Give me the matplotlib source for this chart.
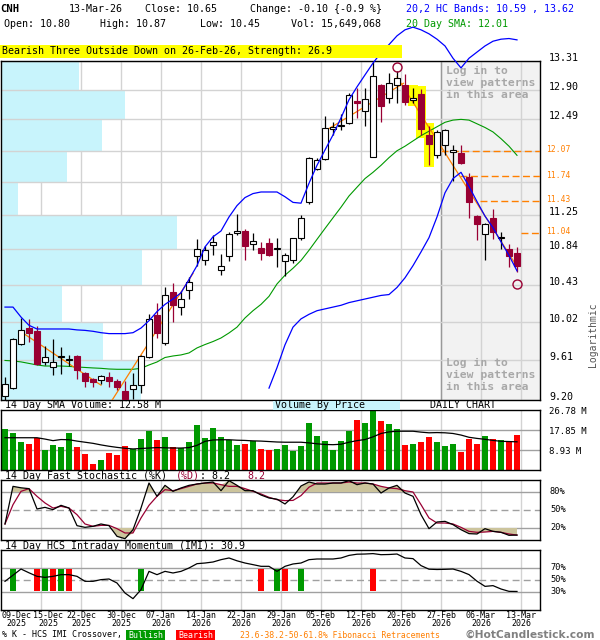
import matplotlib
matplotlib.use("Agg")
import matplotlib.pyplot as plt
from matplotlib.patches import Rectangle
import matplotlib.transforms as mtransforms
import numpy as np

plt.rcParams['font.family'] = ['DejaVu Sans Mono', 'DejaVu Sans']

# ---------------- data ----------------
opens = [9.24, 9.32, 9.78, 9.95, 9.92, 9.59, 9.54, 9.64, 9.61, 9.65,
         9.47, 9.41, 9.40, 9.43, 9.39, 9.29, 9.31, 9.35, 9.64, 10.09,
         9.79, 10.35, 10.18, 10.37, 10.76, 10.72, 10.89, 10.60, 10.76, 11.03,
         11.06, 10.90, 10.86, 10.92, 10.85, 10.70, 10.71, 10.97, 11.42, 11.83,
         11.96, 12.36, 12.40, 12.44, 12.74, 12.60, 11.99, 12.97, 12.78, 12.97,
         12.97, 12.75, 12.84, 12.28, 12.01, 12.14, 12.05, 12.04, 11.73, 11.24,
         11.02, 11.22, 10.98, 10.85, 10.80]
highs = [9.43, 9.84, 10.06, 10.05, 9.97, 9.76, 9.83, 9.75, 9.66, 9.66,
         9.48, 9.42, 9.45, 9.49, 9.41, 9.39, 9.47, 9.66, 10.10, 10.22,
         10.41, 10.45, 10.36, 10.52, 10.96, 10.88, 11.01, 10.79, 11.05, 11.27,
         11.08, 11.03, 10.93, 10.97, 10.97, 10.80, 10.98, 11.26, 11.99, 11.98,
         12.54, 12.46, 12.57, 12.85, 12.92, 12.92, 13.30, 12.98, 13.13, 13.17,
         13.12, 12.93, 12.91, 12.40, 12.35, 12.36, 12.14, 12.14, 11.78, 11.25,
         11.16, 11.33, 11.05, 10.91, 10.87]
lows = [9.19, 9.31, 9.77, 9.80, 9.56, 9.56, 9.45, 9.46, 9.55, 9.41,
        9.33, 9.33, 9.36, 9.33, 9.30, 9.20, 9.21, 9.27, 9.63, 9.84,
        9.77, 10.02, 10.09, 10.27, 10.65, 10.66, 10.78, 10.54, 10.70, 11.01,
        10.72, 10.83, 10.72, 10.76, 10.63, 10.53, 10.68, 10.95, 11.39, 11.82,
        11.95, 12.28, 12.34, 12.43, 12.51, 12.40, 11.99, 12.46, 12.72, 12.71,
        12.69, 12.71, 12.28, 11.89, 11.97, 12.01, 11.68, 11.90, 11.22, 10.95,
        10.71, 10.96, 10.85, 10.63, 10.58]
closes = [9.36, 9.83, 9.93, 9.90, 9.57, 9.64, 9.59, 9.65, 9.62, 9.51,
          9.39, 9.38, 9.44, 9.39, 9.33, 9.21, 9.35, 9.65, 10.05, 9.90,
          10.32, 10.20, 10.27, 10.46, 10.84, 10.83, 10.93, 10.65, 11.02, 11.06,
          10.88, 10.94, 10.80, 10.77, 10.86, 10.77, 10.97, 11.22, 11.97, 11.95,
          12.37, 12.39, 12.41, 12.82, 12.71, 12.77, 13.10, 12.68, 12.99, 13.07,
          12.73, 12.78, 12.36, 12.16, 12.32, 12.35, 12.08, 11.91, 11.41, 11.15,
          11.15, 11.05, 10.99, 10.76, 10.65]
volume_m = [18.3, 16.6, 12.6, 11.7, 14.4, 8.9, 11.2, 10.3, 16.6, 10.3,
            7.1, 2.7, 4.5, 7.6, 6.7, 10.7, 9.4, 13.8, 17.4, 13.4,
            14.7, 10.3, 9.8, 12.5, 20.1, 14.3, 18.7, 14.7, 13.5, 11.2,
            11.7, 12.9, 9.4, 8.9, 9.4, 11.2, 8.5, 10.7, 21.1, 15.2,
            12.9, 8.9, 12.9, 17.4, 22.3, 21.0, 26.5, 21.9, 20.5, 18.3,
            11.2, 11.6, 12.5, 14.7, 12.5, 10.7, 11.6, 8.0, 13.8, 11.6,
            15.2, 13.8, 13.4, 12.9, 15.65]
volume_sma_m = [14.4, 14.4, 14.4, 14.4, 14.4, 13.8, 13.1, 13.6, 13.5, 12.9,
                12.4, 11.9, 11.2, 10.6, 10.1, 9.7, 9.4, 9.6, 9.8, 10.0,
                9.9, 9.8, 9.8, 10.0, 11.0, 12.8, 13.4, 13.5, 13.5, 13.3,
                13.2, 13.0, 12.9, 12.7, 12.5, 12.4, 12.4, 12.4, 12.1, 11.7,
                11.4, 11.3, 11.5, 12.4, 13.1, 13.6, 14.8, 16.3, 17.0, 17.3,
                17.3, 17.3, 16.9, 16.6, 16.7, 16.6, 16.3, 15.6, 14.6, 14.1,
                13.7, 13.2, 12.8, 12.7, 12.58]
upper_band = [10.18, 10.18, 10.07, 9.98, 9.94, 9.94, 9.94, 9.94, 9.94, 9.93,
              9.925, 9.915, 9.90, 9.89, 9.89, 9.89, 9.90, 9.95, 10.03, 10.13,
              10.21, 10.27, 10.34, 10.49, 10.65, 10.87, 10.99, 11.06, 11.23, 11.37,
              11.47, 11.52, 11.54, 11.54, 11.54, 11.48, 11.41, 11.40, 11.65, 11.88,
              12.08, 12.28, 12.51, 12.76, 12.94, 13.11, 13.28, 13.43, 13.55, 13.68,
              13.77, 13.81, 13.77, 13.71, 13.63, 13.53, 13.35, 13.21, 13.35, 13.44,
              13.53, 13.60, 13.63, 13.64, 13.62]
lower_band_start = 33
lower_band = [9.32, 9.53, 9.77, 9.96, 10.05, 10.10, 10.14, 10.16, 10.18, 10.20,
              10.23, 10.25, 10.27, 10.29, 10.31, 10.32, 10.40, 10.51, 10.65, 10.81,
              10.98, 11.23, 11.53, 11.71, 11.79, 11.61, 11.42, 11.24, 11.10, 10.93,
              10.77, 10.59]
sma20 = [9.605, 9.60, 9.59, 9.574, 9.558, 9.547, 9.547, 9.547, 9.543, 9.537,
         9.532, 9.527, 9.523, 9.516, 9.513, 9.513, 9.513, 9.523, 9.558, 9.589,
         9.636, 9.652, 9.663, 9.684, 9.737, 9.773, 9.805, 9.843, 9.897, 9.96,
         10.06, 10.14, 10.21, 10.30, 10.44, 10.54, 10.62, 10.71, 10.83, 10.96,
         11.09, 11.22, 11.35, 11.49, 11.60, 11.71, 11.79, 11.88, 11.98, 12.07,
         12.13, 12.20, 12.27, 12.33, 12.39, 12.45, 12.48, 12.49, 12.48, 12.43,
         12.38, 12.32, 12.23, 12.13, 12.01]
stoch_k = [26.7, 89.4, 87.0, 85.6, 51.7, 54.4, 50.6, 57.8, 53.3, 23.9,
           21.1, 22.8, 26.7, 23.9, 6.1, 2.2, 17.2, 53.3, 95.0, 72.8,
           91.1, 81.1, 86.7, 91.1, 93.3, 95.0, 96.7, 82.2, 98.9, 91.1,
           82.2, 82.2, 75.0, 70.0, 68.0, 60.0, 72.0, 90.0, 96.7, 93.3,
           93.3, 95.0, 95.0, 98.9, 92.2, 95.0, 93.3, 78.3, 86.7, 91.1,
           78.3, 72.8, 42.2, 18.9, 30.0, 31.1, 25.6, 17.2, 10.6, 10.0,
           18.9, 14.4, 12.8, 7.8, 8.2]
stoch_d = [26.7, 58.9, 81.1, 85.6, 72.8, 61.7, 53.3, 56.1, 53.3, 42.2,
           26.7, 22.8, 24.4, 24.4, 18.9, 11.7, 11.7, 36.7, 57.8, 72.8,
           83.9, 82.2, 85.6, 89.4, 93.3, 95.0, 95.0, 92.2, 89.4, 89.4,
           85.6, 81.1, 76.7, 71.1, 67.2, 65.6, 66.0, 74.0, 88.0, 95.0,
           95.0, 95.0, 95.0, 96.7, 95.0, 95.0, 93.3, 89.4, 86.7, 85.6,
           82.2, 80.0, 58.9, 36.7, 28.3, 28.3, 26.7, 21.1, 14.4, 12.8,
           13.3, 14.4, 12.8, 10.0, 8.2]
imi = [47.8, 58.0, 68.3, 62.0, 56.1, 54.4, 56.1, 58.9, 58.9, 56.1,
       47.8, 47.8, 50.6, 51.7, 45.0, 28.3, 18.9, 33.9, 64.4, 58.9,
       64.4, 61.7, 64.4, 70.0, 77.2, 78.3, 80.0, 83.9, 86.7, 82.0,
       78.3, 75.6, 72.8, 72.8, 64.4, 72.8, 76.7, 78.3, 83.9, 85.0,
       85.0, 85.0, 86.7, 91.0, 93.0, 93.3, 94.0, 92.2, 92.5, 93.3,
       86.7, 85.6, 74.0, 68.0, 67.5, 67.8, 68.3, 64.4, 59.0, 48.0,
       39.4, 40.6, 35.0, 31.1, 30.9]
imi_bull_bars = [1, 5, 7, 17, 34, 37]
imi_bear_bars = [4, 6, 8, 32, 35, 46]

tick_bars = [0, 4, 9, 14, 19, 24, 29, 34, 39, 44, 49, 54, 59, 64]
tick_days = ["09-Dec", "15-Dec", "22-Dec", "30-Dec", "07-Jan", "14-Jan", "22-Jan",
             "29-Jan", "05-Feb", "12-Feb", "20-Feb", "27-Feb", "06-Mar", "13-Mar"]
tick_years = ["2025", "2025", "2025", "2025", "2026", "2026", "2026",
              "2026", "2026", "2026", "2026", "2026", "2026", "2026"]

price_grid = [9.20, 9.61, 10.02, 10.43, 10.84, 11.25, 11.66, 12.07, 12.49, 12.90, 13.31]
price_labels = ["13.31", "12.90", "12.49", "11.25", "10.84", "10.43", "10.02", "9.61", "9.20"]
vbp_volume = [140, 102, 61, 141, 176, 17, 66, 101, 124, 78]   # per bin, bottom to top
fib_levels = [12.07, 11.74, 11.43, 11.04]
fib_start = [54.5, 56.9, 59.4, 64.5]
trend_lines = [(2, 9.91, 12, 9.35), (13, 9.15, 23.5, 10.56),
               (39.8, 12.32, 49.8, 12.99), (49.0, 13.08, 64.0, 10.64)]
pattern_bars = [51, 52, 53]
swing_marks = [(49, 13.22), (64, 10.44)]
vol_grid = [8.93, 17.85]
vol_top = 26.78

# ---------------- style ----------------
MAROON = '#990033'
GREEN = '#009900'
RED = '#FF0000'
BLUE = '#0000FF'
ORANGE = '#FF7F00'
CYAN = '#C8F4FC'
GRID = '#D3D3D3'
DGRID = '#A0A0A0'
KHAKI = '#CCC49C'

W, H = 600, 640
n = len(closes)
xs = np.arange(n)
XMIN, XMAX = -0.5, 66.875


def rect(x0, y0, x1, y1):
    return [x0 / W, 1 - y1 / H, (x1 - x0) / W, (y1 - y0) / H]


def ftext(x, y, s, **kw):
    kw.setdefault('fontsize', 7.2)
    kw.setdefault('va', 'center')
    kw.setdefault('ha', 'left')
    fig.text(x / W, 1 - y / H, s, **kw)


fig = plt.figure(figsize=(6, 6.4), dpi=100)
fig.patch.set_facecolor('white')

ax = fig.add_axes(rect(1, 61, 540, 400))
axv = fig.add_axes(rect(1, 410, 540, 470))
axs = fig.add_axes(rect(1, 480, 540, 540))
axi = fig.add_axes(rect(1, 550, 540, 610))

vgrid = [b + 0.5 for b in tick_bars[1:]]

for a in (ax, axv, axs, axi):
    a.set_xlim(XMIN, XMAX)
    a.set_xticks([])
    a.set_yticks([])
    a.minorticks_off()
    for sp in a.spines.values():
        sp.set_color('black')
        sp.set_linewidth(1.0)
    for g in vgrid:
        a.axvline(g, color=GRID, lw=1.0, zorder=1)

# ---------------- price panel ----------------
ax.set_yscale('log')
ax.set_ylim(price_grid[0], price_grid[-1])
ax.yaxis.set_major_locator(matplotlib.ticker.NullLocator())
ax.yaxis.set_minor_locator(matplotlib.ticker.NullLocator())

ax.axvspan(54.5, XMAX, color='#F2F2F2', zorder=0.5, lw=0)
ax.axvline(54.5, color='#999999', lw=1.0, zorder=1.1)
for p in price_grid:
    ax.axhline(p, color=GRID, lw=1.0, zorder=2.5)

ytr = ax.get_yaxis_transform()
vmax = max(vbp_volume)
for i, v in enumerate(vbp_volume):
    lo, hi = price_grid[i], price_grid[i + 1]
    ax.add_patch(Rectangle((0, lo), 0.3265 * v / vmax, hi - lo, transform=ytr,
                           facecolor=CYAN, edgecolor='none', zorder=2))

for txt_y in (0.985, 0.125):
    ax.text(0.825, txt_y, "Log in to\nview patterns\nin this area", transform=ax.transAxes,
            fontsize=8.2, fontweight='bold', color='#A8A8A8', va='top', ha='left',
            linespacing=1.25, zorder=2.6)

for b in pattern_bars:
    lo = lows[b] / 1.003
    hi = highs[b] * 1.003
    ax.add_patch(Rectangle((b - 0.65, lo), 1.3, hi - lo, facecolor='#FFFF00',
                           edgecolor='none', zorder=2.8))

for lvl, st in zip(fib_levels, fib_start):
    ax.hlines(lvl, st, XMAX, colors=ORANGE, lw=1.0, linestyles=(0, (5, 2.5)), zorder=3)

ax.plot(xs, sma20, color=GREEN, lw=0.8, zorder=3.2)
ax.plot(xs, upper_band, color=BLUE, lw=0.9, zorder=6, clip_on=False)
ax.plot(np.arange(lower_band_start, lower_band_start + len(lower_band)), lower_band,
        color=BLUE, lw=0.9, zorder=6)
for x0, p0, x1, p1 in trend_lines:
    ax.plot([x0, x1], [p0, p1], color=ORANGE, lw=0.9, zorder=3.4)

for i in range(n):
    o, h, l, c = opens[i], highs[i], lows[i], closes[i]
    up = c >= o
    col = 'black' if up else MAROON
    ax.vlines(i, l, h, colors=col, lw=0.9, zorder=4)
    bot, top = min(o, c), max(o, c)
    if top / bot < 1.0006:
        top = bot * 1.0006
    ax.add_patch(Rectangle((i - 0.375, bot), 0.75, top - bot,
                           facecolor='white' if up else MAROON,
                           edgecolor=col, lw=0.8, zorder=5))

for b, p in swing_marks:
    ax.plot(b, p, 'o', mfc='none', mec=MAROON, ms=6.5, mew=1.0, zorder=7)

base_off = mtransforms.offset_copy(ytr, fig=fig, x=0, y=3, units='dots')
for lab in price_labels:
    ax.text(1.0167, float(lab), lab, transform=base_off, fontsize=7.2,
            va='center', ha='left', clip_on=False)
fib_off = mtransforms.offset_copy(ytr, fig=fig, x=0, y=1, units='dots')
for lvl in fib_levels:
    ax.text(1.0111, lvl, f"{lvl:.2f}", transform=fib_off, fontsize=5.8, color=ORANGE,
            va='center', ha='left', clip_on=False)

# ---------------- volume panel ----------------
axv.set_ylim(0, vol_top)
for g in vol_grid:
    axv.axhline(g, color=DGRID, lw=1.0, zorder=1.5)
vcols = [GREEN if c >= o else RED for o, c in zip(opens, closes)]
axv.bar(xs, volume_m, width=0.75, color=vcols, zorder=2)
axv.plot(xs, volume_sma_m, color='black', lw=0.9, zorder=3)

# ---------------- stochastic panel ----------------
axs.set_ylim(0, 100)
K = np.array(stoch_k)
D = np.array(stoch_d)
axs.axhline(80, color=DGRID, lw=1.0, zorder=1.5)
axs.axhline(20, color=DGRID, lw=1.0, zorder=1.5)
axs.axhline(50, color=DGRID, lw=1.0, ls=(0, (5, 3)), zorder=1.5)
up_env = np.maximum(K, D)
lo_env = np.minimum(K, D)
axs.fill_between(xs, 80, up_env, where=up_env > 80, interpolate=True, color=KHAKI, lw=0, zorder=1.6)
axs.fill_between(xs, 20, lo_env, where=lo_env < 20, interpolate=True, color=KHAKI, lw=0, zorder=1.6)
axs.plot(xs, D, color=MAROON, lw=0.9, zorder=3)
axs.plot(xs, K, color='black', lw=0.9, zorder=3.1)

# ---------------- IMI panel ----------------
axi.set_ylim(0, 100)
axi.axhline(70, color=DGRID, lw=1.0, zorder=1.5)
axi.axhline(30, color=DGRID, lw=1.0, zorder=1.5)
axi.axhline(50, color=DGRID, lw=1.0, ls=(0, (5, 3)), zorder=1.5)
axi.bar(imi_bull_bars, 36, bottom=32, width=0.83, color=GREEN, zorder=2)
axi.bar(imi_bear_bars, 36, bottom=32, width=0.83, color=RED, zorder=2)
axi.plot(xs, imi, color='black', lw=0.9, zorder=3)

# ---------------- texts ----------------
ftext(0, 9, "CNH", fontweight='bold', fontsize=7.6)
ftext(69, 9, "13-Mar-26")
ftext(145, 9, "Close: 10.65")
ftext(250, 9, "Change: -0.10 {-0.9 %}")
ftext(406, 9, "20,2 HC Bands: 10.59 , 13.62", color=BLUE)
ftext(4.5, 24, "Open: 10.80")
ftext(100, 24, "High: 10.87")
ftext(200, 24, "Low: 10.45")
ftext(291, 24, "Vol: 15,649,068")
ftext(406, 24, "20 Day SMA: 12.01", color=GREEN)

fig.patches.append(Rectangle((0, 1 - 57.5 / H), 402 / W, 12.5 / H, transform=fig.transFigure,
                             facecolor='#FFFF00', edgecolor='none', zorder=0))
ftext(2, 51.5, "Bearish Three Outside Down on 26-Feb-26, Strength: 26.9")

fig.patches.append(Rectangle((273 / W, 1 - 410 / H), 127 / W, 9 / H, transform=fig.transFigure,
                             facecolor=CYAN, edgecolor='none', zorder=0))
ftext(5, 405.5, "14 Day SMA Volume: 12.58 M")
ftext(275, 405.5, "Volume By Price")
ftext(430, 405.5, "DAILY CHART")

ftext(5, 476, "14 Day Fast Stochastic (%K)")
ftext(175.5, 476, "(%D)", color=MAROON)
ftext(199.5, 476, ": 8.2")
ftext(247, 476, "8.2", color=MAROON)
ftext(5, 546, "14 Day HCS Intraday Momentum (IMI): 30.9")

for lab, yy in (("26.78 M", 412), ("17.85 M", 432), ("8.93 M", 452)):
    ftext(549, yy, lab, fontsize=6.5)
for lab, yy in (("80%", 492), ("50%", 510), ("20%", 528), ("70%", 568), ("50%", 580), ("30%", 592)):
    ftext(550, yy, lab, fontsize=6.2)

ftext(593, 335, "Logarithmic", rotation=90, ha='center', fontsize=7, color='#555555')

for j, (b, d, yv) in enumerate(zip(tick_bars, tick_days, tick_years)):
    if j == 0:
        xp, ha = 2, 'left'
    elif j == 1:
        xp, ha = 48, 'center'
    else:
        xp, ha = 9 + 8 * b, 'center'
    ftext(xp, 615.5, d, ha=ha, fontsize=6.0)
    ftext(xp + (4 if j == 0 else 0), 624, yv, ha=ha, fontsize=6.0)

ftext(2, 635, "% K - HCS IMI Crossover,", fontsize=6.0)
fig.patches.append(Rectangle((126 / W, 1 - 640 / H), 39 / W, 10 / H, transform=fig.transFigure,
                             facecolor=GREEN, edgecolor='none'))
ftext(145.5, 635, "Bullish", fontsize=6.0, color='white', ha='center')
fig.patches.append(Rectangle((176 / W, 1 - 640 / H), 39 / W, 10 / H, transform=fig.transFigure,
                             facecolor=RED, edgecolor='none'))
ftext(195.5, 635, "Bearish", fontsize=6.0, color='white', ha='center')
ftext(240, 635, "23.6-38.2-50-61.8% Fibonacci Retracements", fontsize=5.9, color=ORANGE)
ftext(465, 634.5, "©HotCandlestick.com", fontsize=7.7, fontweight='bold', color='#808080',
      family='DejaVu Sans')

fig.savefig("out.png", dpi=100, facecolor='white')
